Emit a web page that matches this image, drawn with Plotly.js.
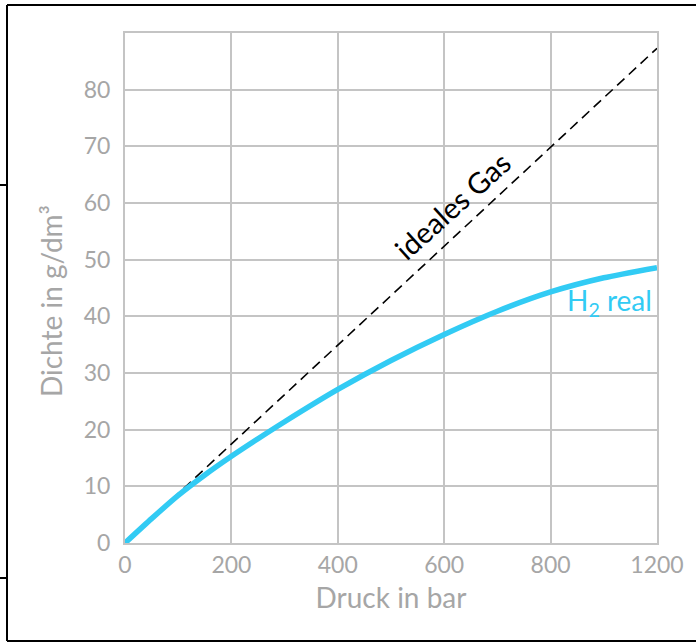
<!DOCTYPE html>
<html>
<head>
<meta charset="utf-8">
<script src="https://cdn.plot.ly/plotly-3.0.1.min.js"></script>
<style>
html,body{margin:0;padding:0;background:#fff;}
#chart{width:696px;height:643px;}
</style>
</head>
<body>
<div id="chart"></div>
<script>
// Data (pressure in bar, density in g/dm³)
const pressureReal = [0, 50, 100, 150, 200, 250, 300, 400, 500, 600, 700, 800, 900, 1000];
const densityReal  = [0, 4.3, 8.4, 12.0, 15.3, 18.4, 21.4, 27.1, 32.2, 36.8, 40.9, 44.3, 46.8, 48.6];
const pressureIdeal = [0, 1000];
const densityIdeal  = [0, 87.3];
const xTickVals = [0, 200, 400, 600, 800, 1000];
const xTickText = ['0', '200', '400', '600', '800', '1200'];
const yTickVals = [0, 10, 20, 30, 40, 50, 60, 70, 80];
const yTickText = ['0', '10', '20', '30', '40', '50', '60', '70', '80'];

const W = 696, H = 643;
const M = {l: 125, r: 39, t: 33, b: 100};
const pw = W - M.l - M.r, ph = H - M.t - M.b;
const px = v => (v - M.l) / pw;
const py = v => (H - M.b - v) / ph;

const gray = '#a6a6a6';
const font = 'Lato, "Open Sans", sans-serif';
const cyan = '#32cbf4';

const traces = [
  {x: pressureIdeal, y: densityIdeal, mode: 'lines', type: 'scatter',
   line: {color: '#000', width: 1.6, dash: '10px,6px'}, hoverinfo: 'skip'},
  {x: pressureReal, y: densityReal, mode: 'lines', type: 'scatter',
   line: {color: cyan, width: 5.5, shape: 'spline', smoothing: 0.6}, hoverinfo: 'skip'}
];

const frame = {type: 'line', xref: 'paper', yref: 'paper', line: {color: '#000', width: 2}};
const layout = {
  width: W, height: H,
  margin: M,
  paper_bgcolor: '#fff', plot_bgcolor: '#fff',
  showlegend: false,
  font: {family: font, color: gray},
  xaxis: {
    range: [0, 1000], tickvals: xTickVals, ticktext: xTickText,
    showgrid: true, gridcolor: '#c4c4c4', gridwidth: 2,
    showline: true, linecolor: '#c4c4c4', linewidth: 2, mirror: true,
    zeroline: false, ticks: '', tickfont: {size: 23, color: gray, family: font},
    title: {text: 'Druck in bar', font: {size: 28, color: gray, family: font}, standoff: 12},
    fixedrange: true
  },
  yaxis: {
    range: [0, 90], tickvals: yTickVals, ticktext: yTickText,
    showgrid: true, gridcolor: '#c4c4c4', gridwidth: 2,
    showline: true, linecolor: '#c4c4c4', linewidth: 2, mirror: true,
    zeroline: false, ticks: 'outside', ticklen: 8, tickcolor: 'rgba(0,0,0,0)',
    tickfont: {size: 23, color: gray, family: font},
    fixedrange: true
  },
  annotations: [
    {x: px(51), y: py(301), xref: 'paper', yref: 'paper', text: 'Dichte in g/dm³', showarrow: false,
     xanchor: 'center', yanchor: 'middle',
     textangle: -90, font: {size: 28, color: gray, family: font}},
    {x: 615, y: 59.5, xref: 'x', yref: 'y', text: 'ideales Gas', showarrow: false,
     textangle: -42, font: {size: 29, color: '#000', family: font}},
    {x: 995, y: 42.5, xref: 'x', yref: 'y', text: 'H<sub>2</sub> real', showarrow: false,
     xanchor: 'right', font: {size: 28, color: cyan, family: font}}
  ],
  shapes: [
    Object.assign({}, frame, {x0: px(7), x1: px(700), y0: py(5), y1: py(5)}),
    Object.assign({}, frame, {x0: px(7), x1: px(7), y0: py(5), y1: py(641)}),
    Object.assign({}, frame, {x0: px(7), x1: px(700), y0: py(641), y1: py(641)}),
    Object.assign({}, frame, {x0: px(0), x1: px(7), y0: py(185), y1: py(185)}),
    Object.assign({}, frame, {x0: px(0), x1: px(7), y0: py(578), y1: py(578)})
  ]
};

Plotly.newPlot('chart', traces, layout, {displayModeBar: false, staticPlot: true});
</script>
</body>
</html>
